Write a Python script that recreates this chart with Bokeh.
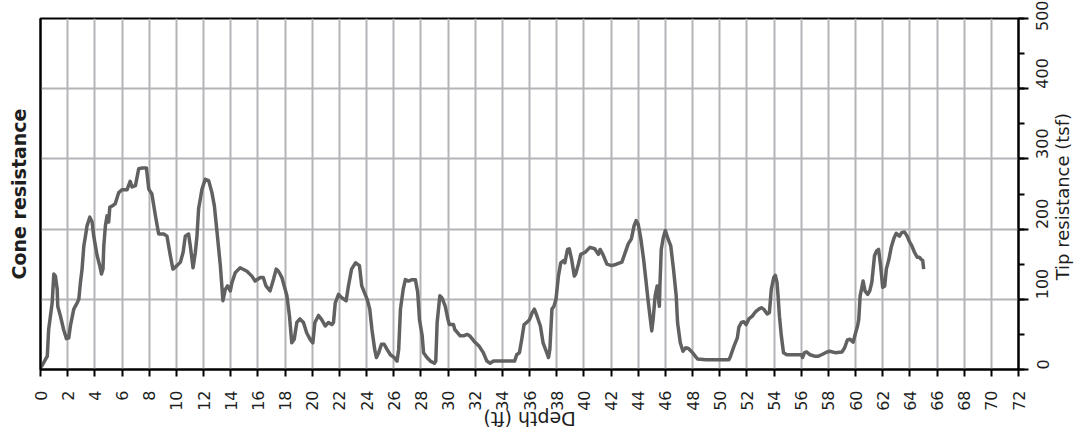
import math

from bokeh.embed import file_html
from bokeh.models import FixedTicker, LinearAxis, Range1d, SingleIntervalTicker
from bokeh.plotting import figure
from bokeh.resources import INLINE

# Cone penetration log: tip resistance (tsf) against depth (ft)
depth_ft = [
    0, 0.1, 0.5, 0.6, 0.86, 0.98, 1.1, 1.23, 1.27, 1.47, 1.7, 1.91, 2.08, 2.2, 2.45, 2.7,
    2.82, 2.94, 3.06, 3.19, 3.31, 3.43, 3.63, 3.8, 3.92, 4.17, 4.36, 4.49, 4.6, 4.66, 4.78,
    4.9, 5.02, 5.1, 5.27, 5.5, 5.76, 6.0, 6.37, 6.6, 6.74, 6.99, 7.23, 7.48, 7.8, 7.97, 8.2,
    8.46, 8.7, 9.07, 9.31, 9.56, 9.75, 10.05, 10.3, 10.5, 10.66, 10.9, 11.03, 11.23, 11.4,
    11.52, 11.64, 11.89, 12.13, 12.38, 12.62, 12.8, 13.0, 13.24, 13.43, 13.6, 13.77, 13.97,
    14.1, 14.34, 14.7, 15.2, 15.56, 15.8, 16.18, 16.4, 16.6, 16.9, 17.16, 17.35, 17.52,
    17.77, 18.14, 18.33, 18.5, 18.68, 18.87, 19.1, 19.36, 19.6, 19.85, 20.05, 20.2, 20.47,
    20.7, 20.96, 21.2, 21.45, 21.57, 21.7, 21.94, 22.2, 22.5, 22.67, 22.9, 23.2, 23.48,
    23.65, 23.9,
    24.05, 24.24, 24.4, 24.6, 24.73, 24.9, 25.1, 25.3, 25.5, 25.76, 26.05, 26.25, 26.37,
    26.5, 26.7, 26.86, 27.1, 27.35, 27.6, 27.77, 27.9, 28.1, 28.2, 28.45, 28.7, 29.0, 29.1,
    29.2, 29.4, 29.56, 29.8, 30.0, 30.1, 30.4, 30.5, 30.9, 31.15, 31.4, 31.6, 31.93, 32.3,
    32.6, 32.86, 33.1, 33.35, 33.84, 34.3, 34.9, 35.06, 35.26, 35.43, 35.6, 35.8, 36.0,
    36.2, 36.36, 36.5, 36.8, 37.0, 37.27, 37.4, 37.5, 37.65, 37.8, 37.95, 38.13, 38.3,
    38.5, 38.6, 38.8, 38.93, 39.1, 39.3, 39.4, 39.6, 39.77, 40.1, 40.45, 40.8, 41.07, 41.2,
    41.4, 41.7, 42.04, 42.4, 42.8, 43.0, 43.27, 43.5, 43.7, 43.85, 44.0, 44.2, 44.4, 44.56,
    44.75, 44.9, 45.0, 45.1, 45.25, 45.4, 45.56, 45.6, 45.7, 45.85, 46.0, 46.2, 46.4, 46.6,
    46.8, 46.9, 47.1, 47.3, 47.5, 47.7,
    48.0, 48.37, 48.98, 49.7, 50.68, 50.8, 51.05, 51.3, 51.41, 51.6, 51.78, 51.95, 52.15,
    52.4, 52.63, 52.88, 53.07, 53.24, 53.5, 53.66, 53.8, 53.98, 54.1, 54.22, 54.3, 54.4,
    54.54, 54.7, 54.95, 55.56, 56.05, 56.1, 56.24, 56.4, 56.66, 56.98, 57.27, 57.5, 57.9,
    58.1, 58.5, 59.0, 59.2, 59.4, 59.6, 59.83, 59.95, 60.15, 60.24, 60.34, 60.44, 60.56,
    60.7, 60.9, 61.05, 61.2, 61.3, 61.4, 61.55, 61.7, 61.85, 62.0, 62.15, 62.27, 62.46,
    62.63, 62.83, 63.0, 63.24, 63.4, 63.6, 63.8, 63.98, 64.15, 64.34, 64.54, 64.7, 64.83,
    64.95, 65.02,
]

tip_tsf = [
    3, 5, 19, 57, 95, 136, 133, 114, 90, 76, 57, 44, 45, 62, 86, 95,
    100, 124, 143, 176, 190, 205, 217, 210, 190, 162, 148, 136, 143, 176, 205,
    219, 210, 231, 233, 236, 252, 256, 256, 268, 260, 262, 286, 287, 287, 257, 250,
    219, 193, 193, 190, 162, 143, 148, 153, 167, 190, 193, 176, 145, 167,
    190, 229, 257, 271, 269, 252, 233, 195, 148, 98, 114, 119, 112,
    124, 138, 145, 140, 133, 126, 131, 131, 119, 112, 129, 143, 140,
    131, 105, 76, 38, 43, 67, 72, 67, 52, 43, 38, 67, 77,
    71, 62, 67, 64, 67, 95, 107, 102, 98, 119, 143, 152, 148,
    119, 107,
    100, 86, 57, 29, 17, 24, 36, 36, 29, 21, 17, 12, 29,
    86, 114, 128, 126, 128, 128, 110, 71, 48, 24, 17, 12, 9, 12,
    67, 105, 102, 90, 71, 64, 64, 57, 48, 48, 50, 48, 40, 33,
    24, 12, 9, 12, 12, 12, 12, 21, 24, 43, 64, 67, 71,
    81, 86, 79, 62, 38, 24, 17, 29, 86, 90, 100, 133, 152,
    155, 152, 171, 172, 157, 133, 136, 150, 164, 167, 174, 172, 164, 171,
    164, 150, 148, 150, 153, 164, 179, 186, 205, 212, 207, 186, 157, 129,
    95, 71, 55, 71, 105, 119, 90, 119, 171, 188, 198, 186, 176, 143,
    105, 67, 38, 26, 31, 30,
    24, 15, 14, 14, 14, 19, 33, 45, 60, 67, 68, 64, 72,
    76, 82, 86, 88, 86, 79, 81, 114, 131, 134, 124, 105, 76,
    48, 24, 21, 21, 21, 17, 24, 25, 21, 19, 19, 21, 25,
    26, 24, 25, 31, 42, 43, 39, 48, 62, 71, 105, 114, 126,
    112, 107, 112, 124, 143, 162, 169, 171, 148, 117, 119, 143, 157,
    174, 187, 194, 190, 195, 196, 190, 182, 176, 167, 160, 160, 157,
    155, 143,
]

depth_tick_step = 2
resistance_tick_step = 100

# where each turned title starts along its axis
depth_title_at = 32.6
resistance_title_at = 127

FONT = "DejaVu Sans"
TEXT = "#1e1e1e"

p = figure(
    width=1086, height=444,
    x_range=Range1d(0, 72), y_range=Range1d(0, 500),
    y_axis_location="right",
    output_backend="svg", toolbar_location=None,
    min_border_left=40, min_border_right=67, min_border_top=18, min_border_bottom=75,
    background_fill_color="white", border_fill_color="white",
)

p.outline_line_color = "black"
p.outline_line_width = 2

# depth axis along the bottom, labels turned on their side
xa = p.xaxis[0]
xa.ticker = SingleIntervalTicker(interval=depth_tick_step, num_minor_ticks=0)
xa.major_label_orientation = math.pi / 2
xa.major_label_text_font = FONT
xa.major_label_text_font_size = "16px"
xa.major_label_text_color = TEXT
xa.major_label_standoff = 14
xa.major_tick_out = 7
xa.major_tick_in = 0
xa.major_tick_line_color = "black"
xa.major_tick_line_width = 2
xa.minor_tick_line_color = None
xa.axis_line_color = "black"
xa.axis_line_width = 2

# resistance axis on the right
ya = p.yaxis[0]
ya.ticker = SingleIntervalTicker(interval=resistance_tick_step, num_minor_ticks=2)
ya.major_label_orientation = math.pi / 2
ya.major_label_text_font = FONT
ya.major_label_text_font_size = "16px"
ya.major_label_text_color = TEXT
ya.major_label_standoff = 14
ya.major_tick_out = 10
ya.major_tick_in = 0
ya.minor_tick_out = 6
ya.minor_tick_in = 0
ya.major_tick_line_color = "black"
ya.major_tick_line_width = 2
ya.minor_tick_line_color = "black"
ya.minor_tick_line_width = 2
ya.axis_line_color = "black"
ya.axis_line_width = 2

# heading on the left, reading upwards
p.add_layout(LinearAxis(
    ticker=FixedTicker(ticks=[]),
    major_tick_out=0, major_tick_in=0, minor_tick_out=0, minor_tick_in=0,
    major_label_standoff=0,
    axis_line_color="black", axis_line_width=2,
    axis_label="Cone resistance",
    axis_label_text_font=FONT, axis_label_text_font_size="19px",
    axis_label_text_font_style="bold", axis_label_text_color=TEXT,
    axis_label_standoff=11,
), "left")


def title_axis(at, text, orientation, size, standoff):
    """A lineless axis whose single tick label serves as a turned title."""
    return LinearAxis(
        ticker=FixedTicker(ticks=[at], minor_ticks=[]),
        major_label_overrides={at: text},
        major_label_orientation=orientation,
        major_label_text_font=FONT, major_label_text_font_size=size,
        major_label_text_color=TEXT,
        major_label_standoff=standoff,
        major_tick_out=0, major_tick_in=0, minor_tick_out=0, minor_tick_in=0,
        major_tick_line_color=None, minor_tick_line_color=None,
        axis_line_color=None,
    )


# depth title, upside down under the tick labels
p.add_layout(title_axis(depth_title_at, "Depth (ft)", math.pi, "19px", 5), "below")
# resistance title, reading upwards beside the tick labels
p.add_layout(title_axis(resistance_title_at, "Tip resistance (tsf)", math.pi / 2, "18px", 5), "right")

xg, yg = p.xgrid[0], p.ygrid[0]
xg.ticker = xa.ticker
yg.ticker = ya.ticker
xg.bounds = (0, 72)
yg.bounds = (0, 500)
for g in (xg, yg):
    g.grid_line_color = "#b4b4b8"
    g.grid_line_width = 2

p.line(depth_ft, tip_tsf, line_color="#616161", line_width=3.5, line_join="round")

open("out.html", "w").write(file_html(p, INLINE))
